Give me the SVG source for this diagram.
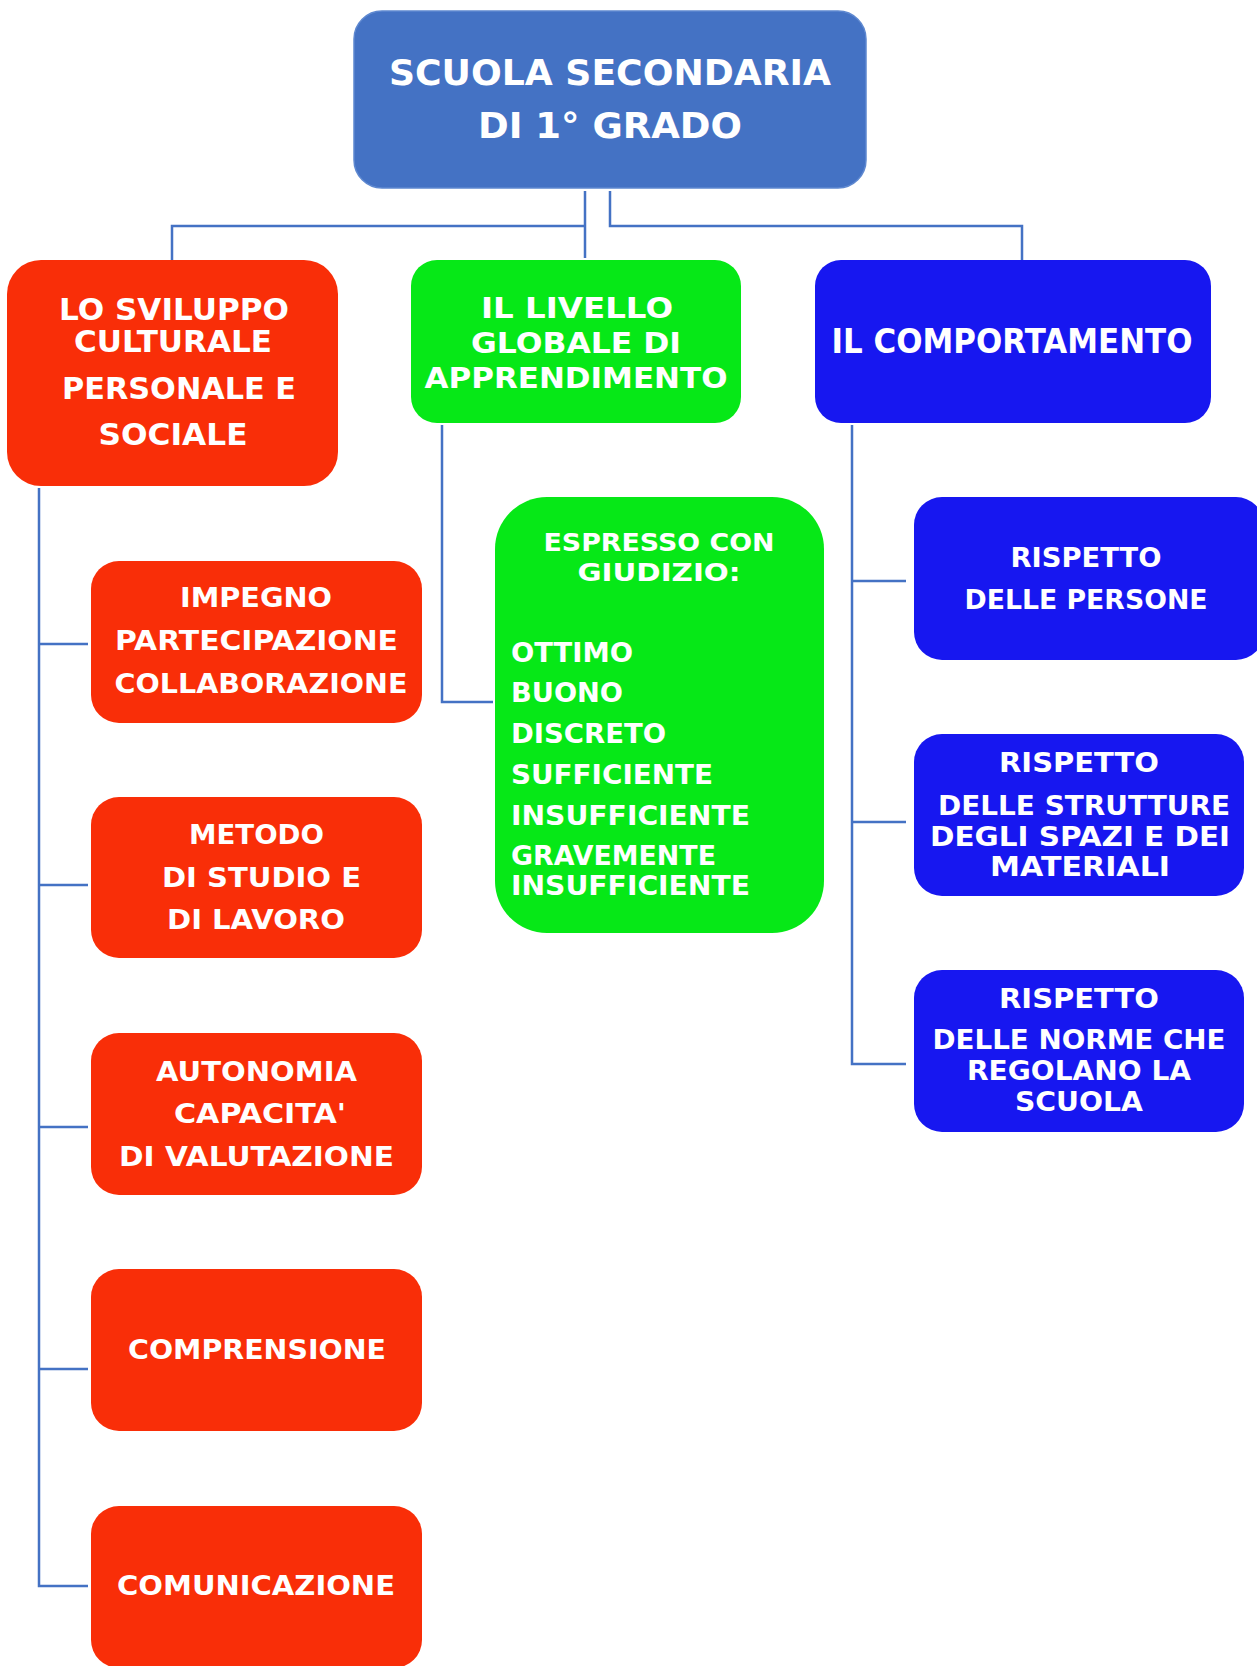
<svg xmlns="http://www.w3.org/2000/svg" width="1257" height="1666" viewBox="0 0 1257 1666">
<style>
.t{font-family:"DejaVu Sans",Verdana,sans-serif;font-weight:bold;fill:#fff;text-anchor:middle}
.s{text-anchor:start}
.red{fill:#F92E08}
.grn{fill:#06E817}
.blu{fill:#1717F0}
.top{fill:#4472C4;stroke:#5E88D0;stroke-width:1.5}
.c{fill:none;stroke:#4472C4;stroke-width:2.5}
</style>
<rect width="1257" height="1666" fill="#fff"/>
<g id="connectors">
<path class="c" d="M585,191 V258 M585,226 H172 V260"/>
<path class="c" d="M610,191 V226 H1022 V260"/>
<path class="c" d="M442,425 V702 H493"/>
<path class="c" d="M852,425 V1064 H906 M852,581 H906 M852,822 H906"/>
<path class="c" d="M39,488 V1586 H88 M39,644 H88 M39,885 H88 M39,1127 H88 M39,1369 H88"/>
</g>
<g id="root">
<rect class="top" x="354" y="11" width="512" height="177" rx="28"/>
<text class="t" font-size="36" x="610" y="85" textLength="442" lengthAdjust="spacingAndGlyphs">SCUOLA SECONDARIA</text>
<text class="t" font-size="36" x="610" y="138" textLength="264" lengthAdjust="spacingAndGlyphs">DI 1° GRADO</text>
</g>
<g id="sviluppo">
<rect class="red" x="7" y="260" width="331" height="226" rx="34"/>
<text class="t" font-size="30" x="174" y="320" textLength="230" lengthAdjust="spacingAndGlyphs">LO SVILUPPO</text>
<text class="t" font-size="30" x="173" y="352" textLength="198" lengthAdjust="spacingAndGlyphs">CULTURALE</text>
<text class="t" font-size="30" x="179" y="399" textLength="234" lengthAdjust="spacingAndGlyphs">PERSONALE E</text>
<text class="t" font-size="30" x="173" y="445" textLength="149" lengthAdjust="spacingAndGlyphs">SOCIALE</text>
</g>
<g id="livello">
<rect class="grn" x="411" y="260" width="330" height="163" rx="26"/>
<text class="t" font-size="29" x="577" y="318" textLength="192" lengthAdjust="spacingAndGlyphs">IL LIVELLO</text>
<text class="t" font-size="29" x="576" y="353" textLength="210" lengthAdjust="spacingAndGlyphs">GLOBALE DI</text>
<text class="t" font-size="29" x="576" y="388" textLength="303" lengthAdjust="spacingAndGlyphs">APPRENDIMENTO</text>
</g>
<g id="comportamento">
<rect class="blu" x="815" y="260" width="396" height="163" rx="26"/>
<text class="t" font-size="33" x="1012" y="353" textLength="361" lengthAdjust="spacingAndGlyphs">IL COMPORTAMENTO</text>
</g>
<g id="giudizio">
<rect class="grn" x="495" y="497" width="329" height="436" rx="52"/>
<text class="t" font-size="25" x="659" y="551" textLength="231" lengthAdjust="spacingAndGlyphs">ESPRESSO CON</text>
<text class="t" font-size="25" x="659" y="581" textLength="163" lengthAdjust="spacingAndGlyphs">GIUDIZIO:</text>
<text class="t s" font-size="27" x="511" y="662" textLength="122" lengthAdjust="spacingAndGlyphs">OTTIMO</text>
<text class="t s" font-size="27" x="511" y="702" textLength="112" lengthAdjust="spacingAndGlyphs">BUONO</text>
<text class="t s" font-size="27" x="511" y="743" textLength="155" lengthAdjust="spacingAndGlyphs">DISCRETO</text>
<text class="t s" font-size="27" x="511" y="784" textLength="202" lengthAdjust="spacingAndGlyphs">SUFFICIENTE</text>
<text class="t s" font-size="27" x="511" y="825" textLength="239" lengthAdjust="spacingAndGlyphs">INSUFFICIENTE</text>
<text class="t s" font-size="27" x="511" y="865" textLength="205" lengthAdjust="spacingAndGlyphs">GRAVEMENTE</text>
<text class="t s" font-size="27" x="511" y="895" textLength="239" lengthAdjust="spacingAndGlyphs">INSUFFICIENTE</text>
</g>
<g id="persone">
<rect class="blu" x="914" y="497" width="350" height="163" rx="28"/>
<text class="t" font-size="27" x="1086" y="567" textLength="151" lengthAdjust="spacingAndGlyphs">RISPETTO</text>
<text class="t" font-size="27" x="1086" y="609" textLength="243" lengthAdjust="spacingAndGlyphs">DELLE PERSONE</text>
</g>
<g id="strutture">
<rect class="blu" x="914" y="734" width="330" height="162" rx="28"/>
<text class="t" font-size="27" x="1079" y="772" textLength="160" lengthAdjust="spacingAndGlyphs">RISPETTO</text>
<text class="t" font-size="27" x="1084" y="815" textLength="292" lengthAdjust="spacingAndGlyphs">DELLE STRUTTURE</text>
<text class="t" font-size="27" x="1080" y="846" textLength="300" lengthAdjust="spacingAndGlyphs">DEGLI SPAZI E DEI</text>
<text class="t" font-size="27" x="1080" y="876" textLength="180" lengthAdjust="spacingAndGlyphs">MATERIALI</text>
</g>
<g id="norme">
<rect class="blu" x="914" y="970" width="330" height="162" rx="28"/>
<text class="t" font-size="27" x="1079" y="1008" textLength="160" lengthAdjust="spacingAndGlyphs">RISPETTO</text>
<text class="t" font-size="27" x="1079" y="1049" textLength="293" lengthAdjust="spacingAndGlyphs">DELLE NORME CHE</text>
<text class="t" font-size="27" x="1079" y="1080" textLength="224" lengthAdjust="spacingAndGlyphs">REGOLANO LA</text>
<text class="t" font-size="27" x="1079" y="1111" textLength="128" lengthAdjust="spacingAndGlyphs">SCUOLA</text>
</g>
<g id="impegno">
<rect class="red" x="91" y="561" width="331" height="162" rx="28"/>
<text class="t" font-size="27" x="256" y="607" textLength="152" lengthAdjust="spacingAndGlyphs">IMPEGNO</text>
<text class="t" font-size="27" x="256.5" y="650" textLength="283" lengthAdjust="spacingAndGlyphs">PARTECIPAZIONE</text>
<text class="t" font-size="27" x="261" y="693" textLength="293" lengthAdjust="spacingAndGlyphs">COLLABORAZIONE</text>
</g>
<g id="metodo">
<rect class="red" x="91" y="797" width="331" height="161" rx="28"/>
<text class="t" font-size="27" x="256.5" y="844" textLength="135" lengthAdjust="spacingAndGlyphs">METODO</text>
<text class="t" font-size="27" x="261.5" y="887" textLength="199" lengthAdjust="spacingAndGlyphs">DI STUDIO E</text>
<text class="t" font-size="27" x="256" y="929" textLength="178" lengthAdjust="spacingAndGlyphs">DI LAVORO</text>
</g>
<g id="autonomia">
<rect class="red" x="91" y="1033" width="331" height="162" rx="28"/>
<text class="t" font-size="27" x="256.5" y="1081" textLength="201" lengthAdjust="spacingAndGlyphs">AUTONOMIA</text>
<text class="t" font-size="27" x="260" y="1123" textLength="172" lengthAdjust="spacingAndGlyphs">CAPACITA'</text>
<text class="t" font-size="27" x="256.5" y="1166" textLength="275" lengthAdjust="spacingAndGlyphs">DI VALUTAZIONE</text>
</g>
<g id="comprensione">
<rect class="red" x="91" y="1269" width="331" height="162" rx="28"/>
<text class="t" font-size="27" x="257" y="1359" textLength="258" lengthAdjust="spacingAndGlyphs">COMPRENSIONE</text>
</g>
<g id="comunicazione">
<rect class="red" x="91" y="1506" width="331" height="162" rx="28"/>
<text class="t" font-size="27" x="256" y="1595" textLength="278" lengthAdjust="spacingAndGlyphs">COMUNICAZIONE</text>
</g>
</svg>
